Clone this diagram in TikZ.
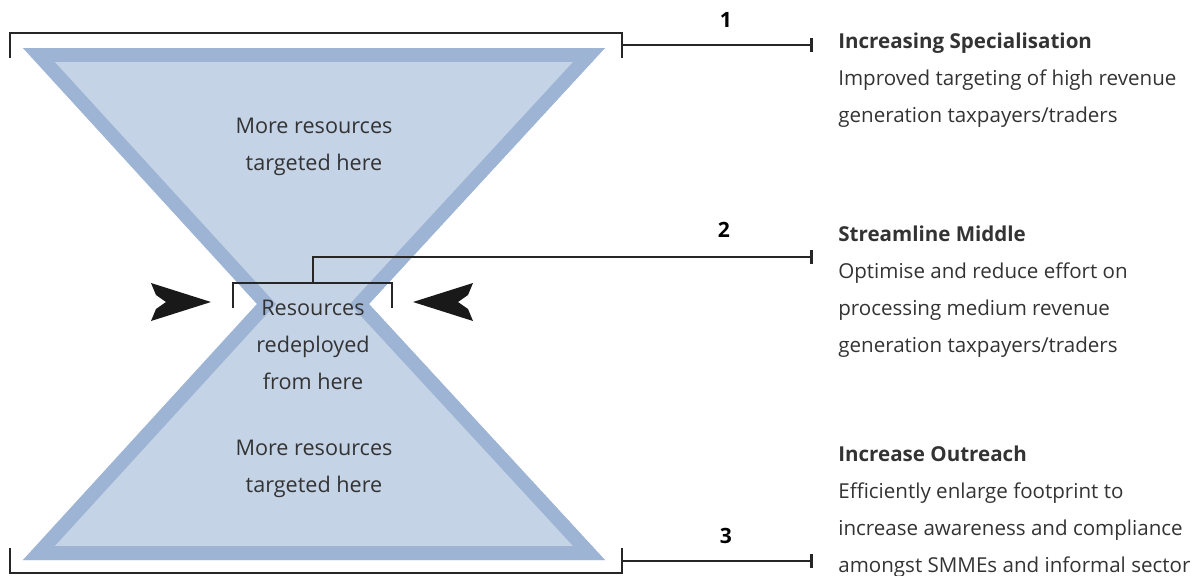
\documentclass[tikz,border=0pt]{standalone}
\usepackage{fontspec}
\setmainfont{Open Sans}
\usepackage{xcolor}
\usetikzlibrary{arrows.meta,positioning,calc}

\definecolor{glassedge}{HTML}{9DB4D4}
\definecolor{glassfill}{HTML}{C5D3E7}
\definecolor{bodytext}{HTML}{333333}

\begin{document}
\begin{tikzpicture}[x=0.02cm,y=-0.02cm,
  bracket/.style={line width=1.2pt,black!85},
  lead/.style={line width=1.5pt,black!85,-{Bar[width=8pt,line width=1.5pt]}},
  note/.style={font=\fontsize{12.3}{21}\selectfont,text=bodytext,align=center,inner sep=0pt},
  blurb/.style={font=\fontsize{11.7}{21}\selectfont,text=bodytext,align=left,inner sep=0pt,anchor=north west},
  num/.style={font=\fontsize{12}{14}\selectfont\bfseries,text=black,inner sep=0pt}]
\useasboundingbox (0,0) rectangle (1197,575);

% hourglass outline
\coordinate (tl) at (23,48);
\coordinate (tr) at (605,48);
\coordinate (rn) at (369,304);
\coordinate (br) at (605,560);
\coordinate (bl) at (23,560);
\coordinate (ln) at (257,304);
\begin{scope}
 \clip (tl)--(tr)--(rn)--(br)--(bl)--(ln)--cycle;
 \fill[glassfill] (tl)--(tr)--(rn)--(br)--(bl)--(ln)--cycle;
 \draw[glassedge,line width=0.56cm,line join=miter] (tl)--(tr)--(rn)--(br)--(bl)--(ln)--cycle;
\end{scope}

% squeeze arrows
\foreach \side in {1,-1}{
 \fill[black!90,shift={(312,0)},xscale=\side] (-101,302) -- (-161,283) -- (-156,295) -- (-146,302) -- (-156,309) -- (-161,321) -- cycle;
 }

% texts in the glass
\node[note] (upper) at (314,147) {More resources\\targeted here};
\node[note] (middle) at (313,345) {Resources\\redeployed\\from here};
\node[note] (lower) at (314,469) {More resources\\targeted here};

% brackets
\coordinate (top west) at (10,58);
\coordinate (top east) at (622,33);
\draw[bracket] (top west) |- (top east) -- ++(0,25);
\coordinate (bot west) at (10,548);
\coordinate (bot east) at (622,573);
\draw[bracket] (bot west) |- (bot east) -- ++(0,-25);
\coordinate (mid west) at (233,308);
\coordinate (mid east) at (392,283);
\draw[bracket] (mid west) |- (mid east) -- ++(0,25);

% leads to the notes
\coordinate (s1) at (622,45);
\coordinate (e1) at (813,45);
\draw[lead] (s1) -- (e1);
\coordinate (s2) at (313,283);
\coordinate (e2) at (813,257);
\draw[lead] (s2) |- (e2);
\coordinate (s3) at (622,561);
\coordinate (e3) at (813,561);
\draw[lead] (s3) -- (e3);
\node[num] (n1) at (726,20) {1};
\node[num] (n2) at (724,230) {2};
\node[num] (n3) at (726,536) {3};

% notes on the right
\node[blurb] (spec) at (838,33) {\textbf{Increasing Specialisation}\\Improved targeting of high revenue\\generation taxpayers/traders};
\node[blurb] (stream) at (838,226) {\textbf{Streamline Middle}\\Optimise and reduce effort on\\processing medium revenue\\generation taxpayers/traders};
\node[blurb] (reach) at (838,446) {\textbf{Increase Outreach}\\Efficiently enlarge footprint to\\increase awareness and compliance\\amongst SMMEs and informal sector};
\end{tikzpicture}
\end{document}
